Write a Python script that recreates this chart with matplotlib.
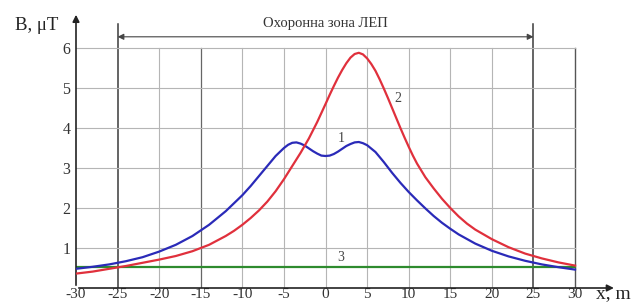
import matplotlib
matplotlib.use("Agg")
import matplotlib.pyplot as plt

plt.rcParams['font.family'] = ['Liberation Serif', 'DejaVu Serif']

# curve 1 (blue)
x1 = [-30, -28, -26, -24, -22, -20, -18, -16, -14, -12, -11, -10, -9, -8, -7, -6, -5, -4.5, -4, -3.5,
      -3, -2.5, -2, -1.5, -1, -0.5, 0, 0.5, 1, 1.5, 2, 2.5, 3, 3.5, 4, 4.5, 5, 6, 7, 8, 9, 10,
      11, 12, 13, 14, 15, 16, 18, 20, 22, 24, 26, 28, 30]
b1 = [0.48, 0.53, 0.59, 0.67, 0.77, 0.91, 1.08, 1.30, 1.58, 1.92, 2.12, 2.32, 2.55, 2.80, 3.05, 3.30, 3.50, 3.58, 3.63, 3.64,
      3.61, 3.56, 3.49, 3.42, 3.36, 3.31, 3.30, 3.31, 3.35, 3.41, 3.48, 3.55, 3.60, 3.64, 3.65, 3.62, 3.57, 3.40, 3.15, 2.88, 2.63, 2.40,
      2.19, 1.99, 1.80, 1.63, 1.48, 1.34, 1.11, 0.93, 0.79, 0.68, 0.59, 0.52, 0.46]

# curve 2 (red)
x2 = [-30, -28, -26, -24, -22, -20, -18, -16, -14, -12, -11, -10, -9, -8, -7, -6, -5, -4, -3, -2, -1,
      0, 0.5, 1, 1.5, 2, 2.5, 3, 3.5, 4, 4.5, 5, 5.5, 6, 6.5, 7, 7.5, 8, 8.5, 9, 9.5, 10, 10.5, 11,
      12, 13, 14, 15, 16, 17, 18, 20, 22, 24, 26, 28, 30]
b2 = [0.36, 0.41, 0.48, 0.55, 0.63, 0.71, 0.80, 0.92, 1.08, 1.30, 1.43, 1.58, 1.75, 1.94, 2.16, 2.42, 2.72, 3.05, 3.38, 3.74, 4.15,
      4.60, 4.83, 5.05, 5.26, 5.45, 5.62, 5.76, 5.85, 5.88, 5.84, 5.74, 5.60, 5.43, 5.22, 4.99, 4.75, 4.50, 4.25, 4.00, 3.76, 3.53, 3.31, 3.11,
      2.77, 2.49, 2.23, 2.00, 1.79, 1.61, 1.46, 1.22, 1.02, 0.86, 0.74, 0.64, 0.56]

# curve 3 (green)
x3 = [-30, 30]
b3 = [0.53, 0.53]

xticks = list(range(-30, 31, 5))
yticks = [1, 2, 3, 4, 5, 6]

fig = plt.figure(figsize=(6.33, 3.02), dpi=100)
ax = fig.add_axes([76 / 633, 1 - 288 / 302, (620 - 76) / 633, 278 / 302])
ax.set_xlim(-30, 35.4)
ax.set_ylim(0, 6.95)
for s in ax.spines.values():
    s.set_visible(False)

# grid
for xv in xticks[1:]:
    if xv in (-25, 25):
        ax.plot([xv, xv], [0, 6.6], color='#3a3a3a', lw=1.1, zorder=1)
    elif xv == 30:
        ax.plot([xv, xv], [0, 6], color='#555555', lw=1.0, zorder=1)
    elif xv == -15:
        ax.plot([xv, xv], [0, 6], color='#666666', lw=0.9, zorder=1)
    else:
        ax.plot([xv, xv], [0, 6], color='#b5b5b5', lw=0.8, zorder=1)
for yv in yticks:
    ax.plot([-30, 30], [yv, yv], color='#b5b5b5', lw=0.8, zorder=1)

# axes with arrows
ax.annotate('', xy=(-30, 6.9), xytext=(-30, 0),
            arrowprops=dict(arrowstyle='-|>', color='#222222', lw=1.2, mutation_scale=10))
ax.annotate('', xy=(35.0, 0), xytext=(-30, 0),
            arrowprops=dict(arrowstyle='-|>', color='#222222', lw=1.2, mutation_scale=10))

# protection zone
ax.annotate('', xy=(25, 6.28), xytext=(-25, 6.28),
            arrowprops=dict(arrowstyle='<|-|>', color='#444444', lw=0.8, mutation_scale=9,
                            shrinkA=0, shrinkB=0))
ax.text(0, 6.6, 'Охоронна зона ЛЕП', ha='center', va='center', fontsize=10.5, color='#333333')

ax.plot(x1, b1, color='#2a2ab8', lw=1.6, zorder=3)
ax.plot(x2, b2, color='#e0303c', lw=1.6, zorder=3)
ax.plot(x3, b3, color='#2e8b2e', lw=1.6, zorder=2)

ax.text(1.9, 3.75, '1', ha='center', va='center', fontsize=10, color='#444444')
ax.text(8.7, 4.75, '2', ha='center', va='center', fontsize=10, color='#444444')
ax.text(1.8, 0.76, '3', ha='center', va='center', fontsize=10, color='#444444')

ax.set_xticks(xticks)
ax.set_xticklabels([str(v) for v in xticks], fontsize=11, color='#333333')
ax.set_yticks(yticks)
ax.set_yticklabels([str(v) for v in yticks], fontsize=11.5, color='#333333')
ax.tick_params(axis='x', length=0, pad=0)
ax.tick_params(axis='y', length=0, pad=4)

fig.text(15 / 633, 1 - 25 / 302, 'B, μT', ha='left', va='center', fontsize=13.5, color='#222222')
fig.text(596 / 633, 1 - 294 / 302, 'x, m', ha='left', va='center', fontsize=14, color='#222222')

fig.savefig('out.png', dpi=100)
